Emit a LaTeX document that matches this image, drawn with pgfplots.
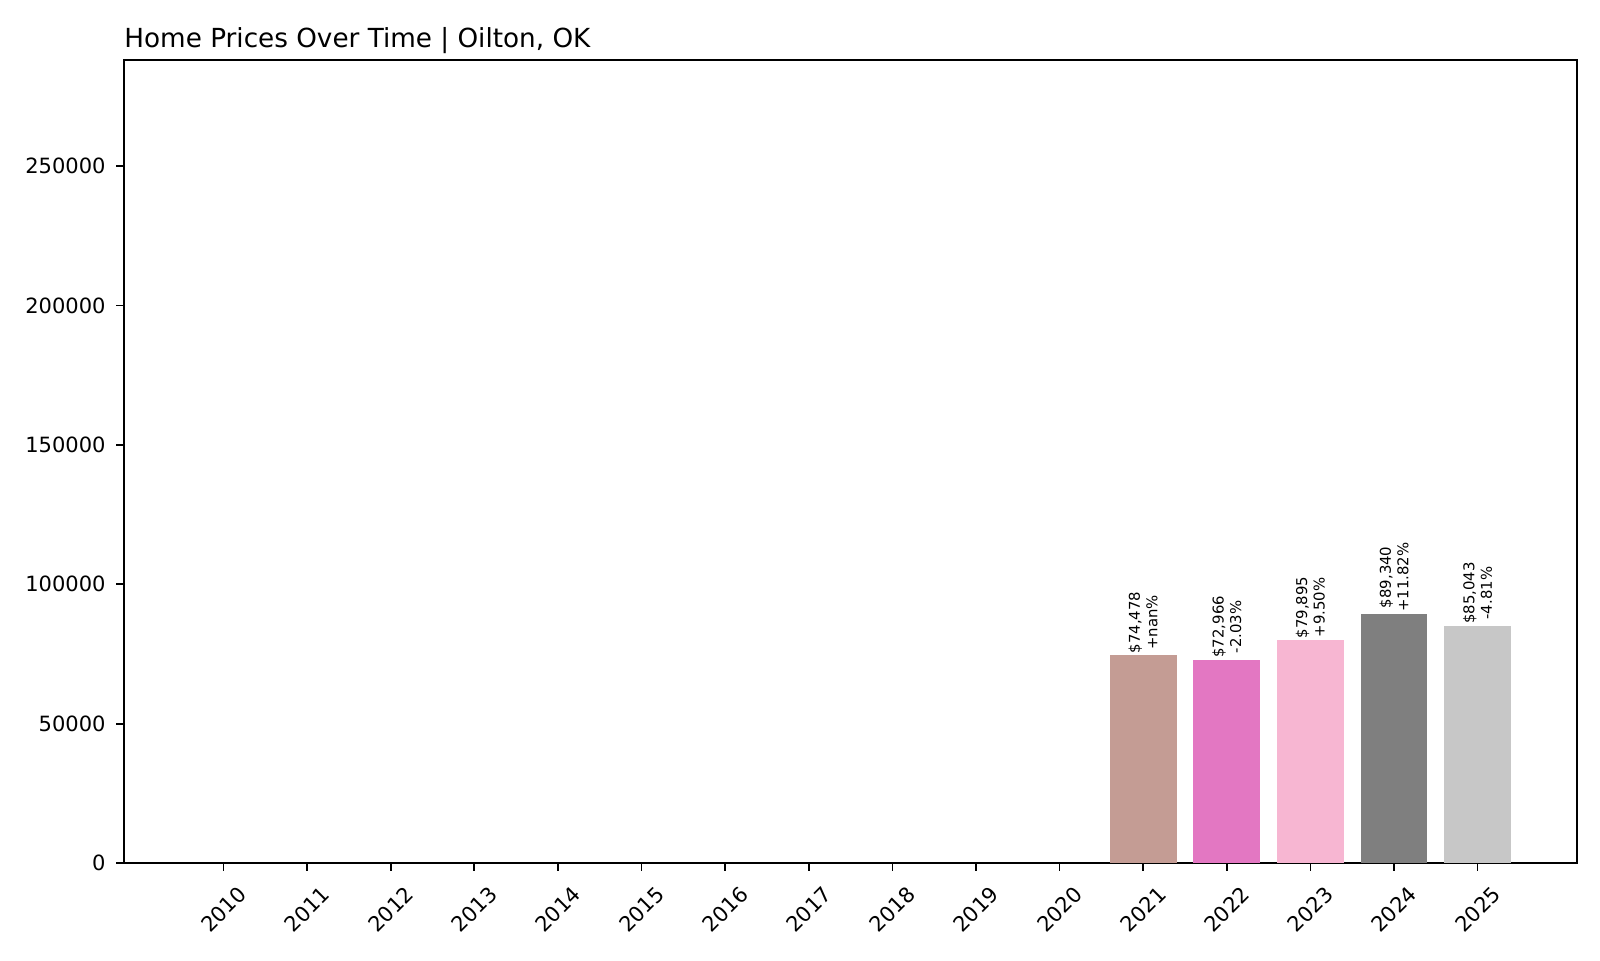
\documentclass[border=0pt]{standalone}
\usepackage{fontspec}
\setmainfont{DejaVu Sans}
\usepackage{pgfplots}
\pgfplotsset{compat=1.18}

\definecolor{c2021}{HTML}{C49C94}
\definecolor{c2022}{HTML}{E377C2}
\definecolor{c2023}{HTML}{F7B6D2}
\definecolor{c2024}{HTML}{7F7F7F}
\definecolor{c2025}{HTML}{C7C7C7}

\begin{document}
\begin{tikzpicture}
\begin{axis}[
  at={(0pt,0pt)}, anchor=south west,
  scale only axis,
  width=830.3pt, height=458.9pt,
  xmin=2008.81, xmax=2026.19,
  ymin=0, ymax=288000,
  axis line style={line width=1pt},
  tick style={line width=1pt, black},
  tick align=outside,
  major tick length=4.4pt,
  xtick pos=bottom, ytick pos=left,
  xtick={2010,2011,...,2025},
  ytick={0,50000,100000,150000,200000,250000},
  /pgf/number format/assume math mode=true,
  xticklabel={\pgfmathprintnumber[fixed,1000 sep={}]{\tick}},
  yticklabel={\pgfmathprintnumber[fixed,1000 sep={}]{\tick}},
  scaled y ticks=false,
  ticklabel style={font=\fontsize{12}{14}\selectfont},
  xticklabel style={rotate=45, anchor=center},
  xticklabel shift=22pt,
  yticklabel style={inner sep=0pt, xshift=-6pt},
  title={Home Prices Over Time | Oilton, OK},
  title style={at={(0,1)}, anchor=base west, inner sep=0pt, yshift=1pt,
    font=\fontsize{15}{18}\selectfont},
  bar shift=0pt,
  bar width=0.8,
  every node near coord/.append style={rotate=90, anchor=west, align=center,
    inner sep=0pt, xshift=1pt, font=\fontsize{8.5}{10}\selectfont},
]
\addplot[ybar, fill=c2021, draw=none, nodes near coords={\$74,478\\+nan\%}]
  coordinates {(2021,74478)};
\addplot[ybar, fill=c2022, draw=none, nodes near coords={\$72,966\\-2.03\%}]
  coordinates {(2022,72966)};
\addplot[ybar, fill=c2023, draw=none, nodes near coords={\$79,895\\+9.50\%}]
  coordinates {(2023,79895)};
\addplot[ybar, fill=c2024, draw=none, nodes near coords={\$89,340\\+11.82\%}]
  coordinates {(2024,89340)};
\addplot[ybar, fill=c2025, draw=none, nodes near coords={\$85,043\\-4.81\%}]
  coordinates {(2025,85043)};
\end{axis}
\pgfresetboundingbox
\useasboundingbox (-70.9pt,-55.4pt) rectangle (843.4pt,493.2pt);
\end{tikzpicture}
\end{document}
